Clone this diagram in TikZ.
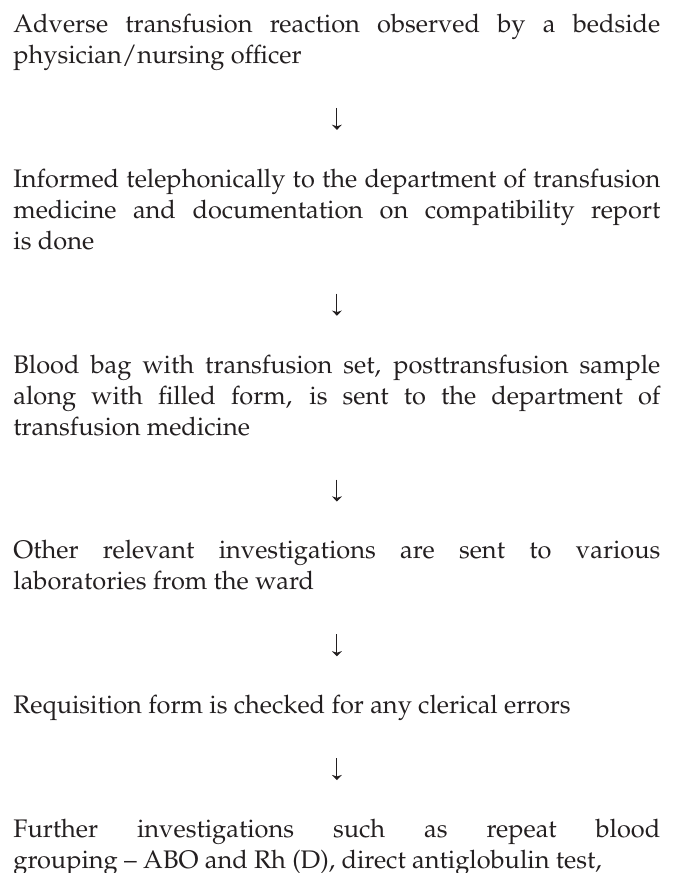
\documentclass[tikz,border=0pt]{standalone}
\usepackage[T1]{fontenc}
\usepackage{mathpazo}
\usepackage{xcolor}
\usepackage{tikz}
\usetikzlibrary{positioning, arrows.meta}
\definecolor{printink}{HTML}{231F20}
\tikzset{
  stage/.style={text width=323.5pt, align=justify, inner sep=0pt, text=printink, font=\fontsize{12.7}{15.5}\selectfont, execute at begin node=\strut, execute at end node=\strut},
  flow/.style={-{Stealth[length=2.6pt, width=5pt, inset=0.8pt]}, line width=0.5pt, draw=printink, shorten <=17.4pt, shorten >=17.6pt},
}

\begin{document}
\begin{tikzpicture}[node distance=46pt]
  \useasboundingbox (0,0) rectangle (339pt,-436.5pt);

  % Stages, top to bottom
  \node[stage, anchor=north west] (observe) at (6.5pt,-5.15pt)
    {Adverse transfusion reaction observed by a bedside\linebreak physician/nursing officer};
  \node[stage, below=of observe] (inform)
    {Informed telephonically to the department of transfusion\linebreak medicine and documentation on compatibility report\linebreak is done};
  \node[stage, below=of inform] (bagsent)
    {Blood bag with transfusion set, posttransfusion sample\linebreak along with filled form, is sent to the department of\linebreak transfusion medicine};
  \node[stage, below=of bagsent] (otherlabs)
    {Other relevant investigations are sent to various\linebreak laboratories from the ward};
  \node[stage, below=of otherlabs] (formcheck)
    {Requisition form is checked for any clerical errors};
  \node[stage, below=of formcheck] (furtherinv)
    {\parfillskip=0pt Further investigations such as repeat blood\linebreak grouping -- ABO and Rh (D), direct antiglobulin test,};

  % Arrows between stages
  \draw[flow] (observe) -- (inform);
  \draw[flow] (inform) -- (bagsent);
  \draw[flow] (bagsent) -- (otherlabs);
  \draw[flow] (otherlabs) -- (formcheck);
  \draw[flow] (formcheck) -- (furtherinv);
\end{tikzpicture}
\end{document}
